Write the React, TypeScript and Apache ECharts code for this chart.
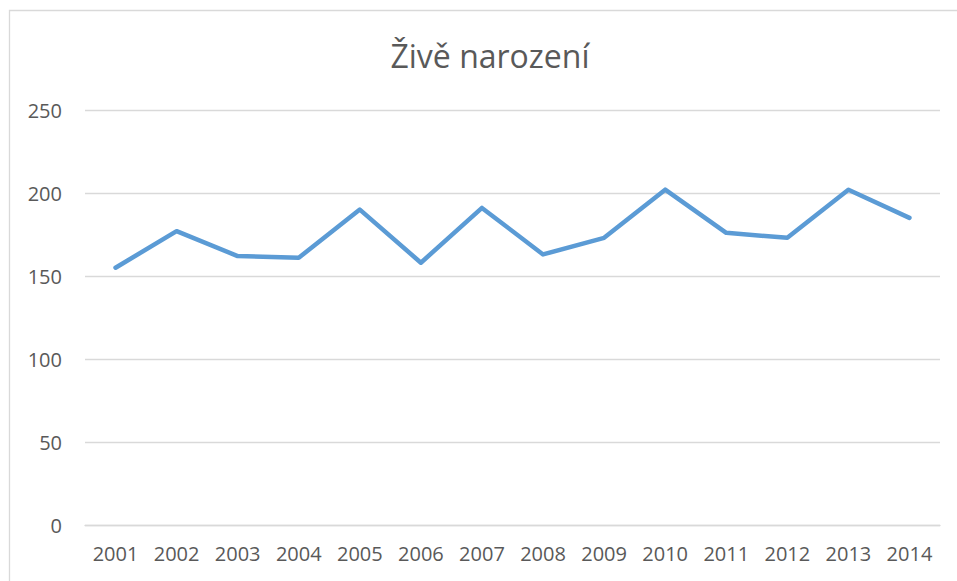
import React, { useEffect, useRef } from "react";
import * as echarts from "echarts";

const years = ["2001", "2002", "2003", "2004", "2005", "2006", "2007", "2008", "2009", "2010", "2011", "2012", "2013", "2014"];
const births = [155, 177, 162, 161, 190, 158, 191, 163, 173, 202, 176, 173, 202, 185];
const titleText = "Živě narození";
const yMin = 0;
const yMax = 250;
const yStep = 50;

export default function App() {
  const ref = useRef<HTMLDivElement>(null);
  useEffect(() => {
    document.body.style.margin = "0";
    const chart = echarts.init(ref.current!, null, { renderer: "svg" });
    const font = "'Open Sans', sans-serif";
    chart.setOption({
      animation: false,
      backgroundColor: "#ffffff",
      graphic: [
        {
          type: "rect",
          shape: { x: 9.5, y: 10.5, width: 1000, height: 1000 },
          style: { fill: "none", stroke: "#d9d9d9", lineWidth: 1.3 },
          silent: true,
        },
        {
          type: "text",
          x: 490,
          y: 55,
          style: {
            text: titleText,
            fontFamily: font,
            fontSize: 32,
            fill: "#595959",
            align: "center",
            verticalAlign: "middle",
          },
        },
      ],
      grid: { left: 85, right: 17, top: 110, bottom: 56 },
      xAxis: {
        type: "category",
        data: years,
        boundaryGap: true,
        axisLine: { show: true, lineStyle: { color: "#d9d9d9", width: 1.3 } },
        axisTick: { show: false },
        axisLabel: { color: "#595959", fontFamily: font, fontSize: 20, margin: 18 },
      },
      yAxis: {
        type: "value",
        min: yMin,
        max: yMax,
        interval: yStep,
        axisLine: { show: false },
        axisTick: { show: false },
        axisLabel: { color: "#595959", fontFamily: font, fontSize: 20, margin: 23 },
        splitLine: { lineStyle: { color: "#d9d9d9", width: 1.3 } },
      },
      series: [
        {
          type: "line",
          data: births,
          showSymbol: false,
          symbol: "none",
          lineStyle: { color: "#5b9bd5", width: 4.5, cap: "round", join: "round" },
        },
      ],
    });
    return () => chart.dispose();
  }, []);
  return <div ref={ref} style={{ width: 957, height: 581 }} />;
}
